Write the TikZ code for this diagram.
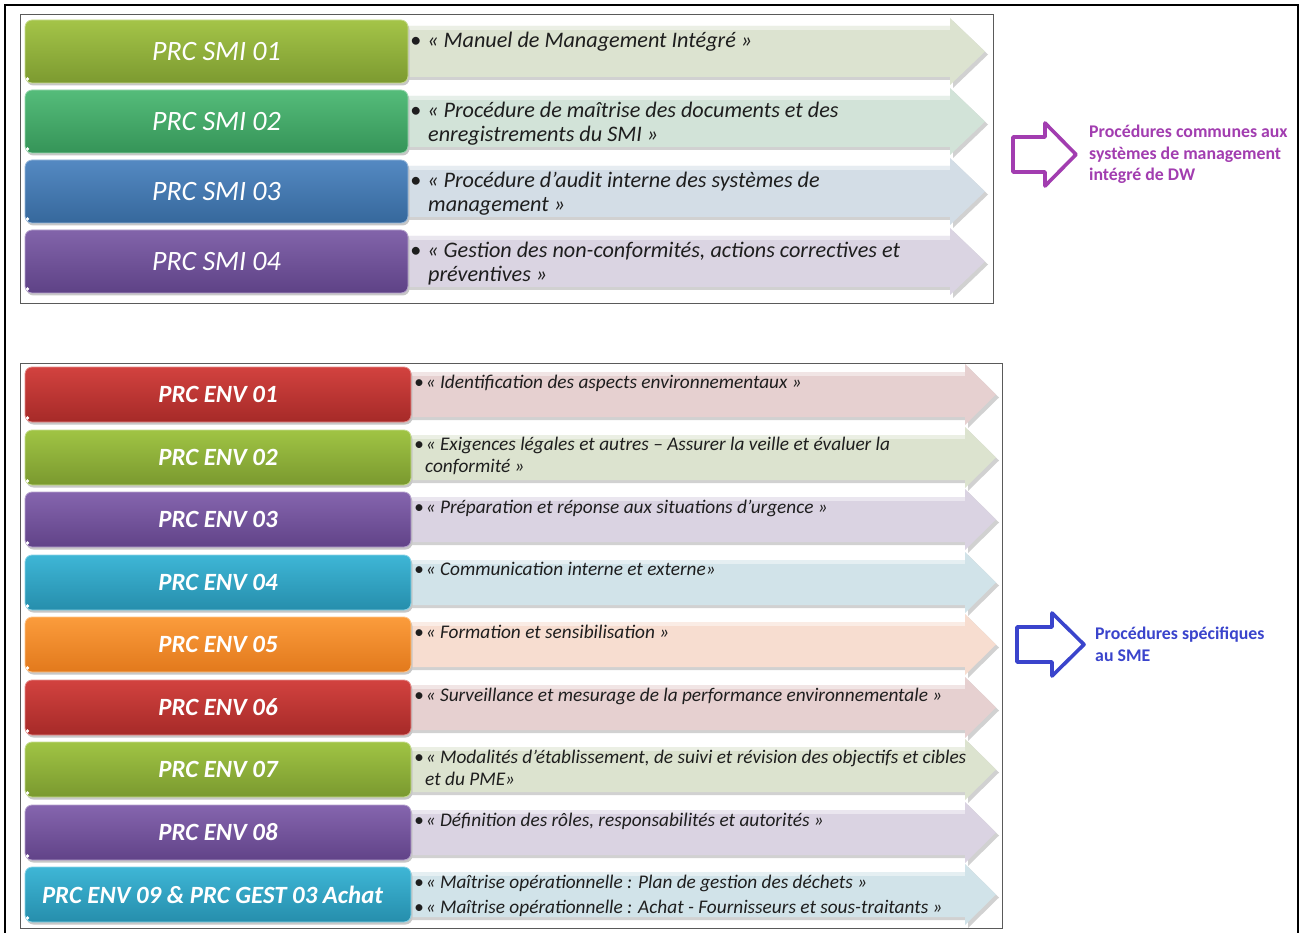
\documentclass[tikz,border=0pt]{standalone}
\usepackage{fontspec}
\setmainfont{Carlito}
\definecolor{txt}{HTML}{1E1E1E}
\definecolor{frame}{HTML}{5A5A5A}
\definecolor{smiApale}{HTML}{DCE3D0}
\definecolor{smiBpale}{HTML}{D2E3D8}
\definecolor{smiCpale}{HTML}{D3DDE6}
\definecolor{smiDpale}{HTML}{DAD4E2}
\definecolor{redpale}{HTML}{E6D0D0}
\definecolor{grnpale}{HTML}{DCE3CF}
\definecolor{purpale}{HTML}{DAD3E2}
\definecolor{aqupale}{HTML}{D1E3E9}
\definecolor{orapale}{HTML}{F7DDD0}
\definecolor{purplemark}{HTML}{A23DB0}
\definecolor{bluemark}{HTML}{3A44CC}
% bar gradients: top / bottom
\definecolor{smiAt}{HTML}{A4C448}\definecolor{smiAb}{HTML}{7C9A30}
\definecolor{smiBt}{HTML}{55BC7A}\definecolor{smiBb}{HTML}{359458}
\definecolor{smiCt}{HTML}{5489C2}\definecolor{smiCb}{HTML}{36689C}
\definecolor{smiDt}{HTML}{8264AA}\definecolor{smiDb}{HTML}{5E4286}
\definecolor{redt}{HTML}{D2423F}\definecolor{redb}{HTML}{A62A28}
\definecolor{grnt}{HTML}{A0C444}\definecolor{grnb}{HTML}{7A992F}
\definecolor{purt}{HTML}{8565AE}\definecolor{purb}{HTML}{614388}
\definecolor{aqut}{HTML}{3EB6D6}\definecolor{aqub}{HTML}{268EAC}
\definecolor{orat}{HTML}{FB9C3C}\definecolor{orab}{HTML}{E2791C}
\tikzset{
  bar/.style args={#1/#2}{rounded corners=7pt, inner sep=0pt, text=white,
    top color=#1, bottom color=#2, draw=#1!60!white, line width=0.8pt,
    preaction={fill=black!22, transform canvas={shift={(1.5pt,-2.5pt)}}}},
  smibar/.style={minimum width=383pt, minimum height=63pt,
    font=\fontsize{28}{32}\selectfont\itshape},
  envbar/.style={minimum width=386pt, minimum height=55pt,
    font=\fontsize{24.8}{28}\selectfont\bfseries\itshape},
  smitext/.style={anchor=base west, inner sep=0pt, text=txt,
    font=\fontsize{22.2}{26}\selectfont\itshape},
  envtext/.style={anchor=base west, inner sep=0pt, text=txt,
    font=\fontsize{19.3}{22}\selectfont\itshape},
  boxframe/.style={draw=frame, line width=1pt},
  bigarrow/.style={draw=#1, line width=3.6pt, line join=round, fill=white},
  sidetext/.style={anchor=base west, inner sep=0pt,
    font=\fontsize{17.8}{21}\selectfont\bfseries}
}
% pale band with a pointed head behind the description of a procedure
\newcommand\smiband[2]{%
  \fill[black!18] (403,#2+9) -- (953,#2+9) -- (953,#2+1) -- (988,#2+34.5)
    -- (953,#2+68) -- (953,#2+60) -- (403,#2+60) -- cycle;
  \fill[#1] (400,#2+6) -- (950,#2+6) -- (950,#2-2) -- (985,#2+31.5)
    -- (950,#2+65) -- (950,#2+57) -- (400,#2+57) -- cycle;
  \fill[white, opacity=0.45] (400,#2+6) rectangle (950,#2+10);}
\newcommand\envband[2]{%
  \fill[black!18] (408,#2+8) -- (968,#2+8) -- (968,#2+0) -- (999,#2+30.5)
    -- (968,#2+61) -- (968,#2+53) -- (408,#2+53) -- cycle;
  \fill[#1] (405,#2+5) -- (965,#2+5) -- (965,#2-3) -- (996,#2+27.5)
    -- (965,#2+58) -- (965,#2+50) -- (405,#2+50) -- cycle;
  \fill[white, opacity=0.45] (405,#2+5) rectangle (965,#2+9);}
% small glossy dot in the lower left corner of a bar
\newcommand\gloss[1]{\fill[white] (27.5,#1) circle (1.8pt);}
\begin{document}
\begin{tikzpicture}[x=1pt, y=-1pt]
  \useasboundingbox (0,0) rectangle (1301,933);
  \clip (0,0) rectangle (1301,933);
  \fill[white] (0,0) rectangle (1301,933);
  % outer frame
  \draw[black, line width=2pt] (5,945) -- (5,5) -- (1298,5) -- (1298,945);

  % ---------- integrated management system procedures ----------
  \draw[boxframe] (20,15) rectangle (993,304);
  \smiband{smiApale}{20}
  \smiband{smiBpale}{90}
  \smiband{smiCpale}{160}
  \smiband{smiDpale}{230}

  \node[bar=smiAt/smiAb, smibar] (smi1) at (216.5,51.5) {PRC SMI 01};
  \node[bar=smiBt/smiBb, smibar] (smi2) at (216.5,121.5) {PRC SMI 02};
  \node[bar=smiCt/smiCb, smibar] (smi3) at (216.5,191.5) {PRC SMI 03};
  \node[bar=smiDt/smiDb, smibar] (smi4) at (216.5,261.5) {PRC SMI 04};
  \gloss{79}\gloss{149}\gloss{219}\gloss{289}

  \node[smitext] (d1) at (410,47.5) {•\hspace{6pt}« Manuel de Management Intégré »};
  \node[smitext] (d2a) at (410,117.5) {•\hspace{6pt}« Procédure de maîtrise des documents et des};
  \node[smitext] (d2b) at (428,141.5) {enregistrements du SMI »};
  \node[smitext] (d3a) at (410,187.5) {•\hspace{6pt}« Procédure d’audit interne des systèmes de};
  \node[smitext] (d3b) at (428,211.5) {management  »};
  \node[smitext] (d4a) at (410,257.5) {•\hspace{6pt}« Gestion des non-conformités, actions correctives et};
  \node[smitext] (d4b) at (428,281.5) {préventives »};

  % side note for the upper group
  \draw[bigarrow=purplemark] (1013,137) -- (1045,137) -- (1045,123) -- (1076,154.5)
    -- (1045,186) -- (1045,172) -- (1013,172) -- cycle;
  \node[sidetext, text=purplemark] (n1a) at (1089,138) {Procédures communes aux};
  \node[sidetext, text=purplemark] (n1b) at (1089,159.5) {systèmes de management};
  \node[sidetext, text=purplemark] (n1c) at (1089,181) {intégré de DW};

  % ---------- environmental management system procedures ----------
  \draw[boxframe] (20,363) rectangle (1002,928);
  \envband{redpale}{367}
  \envband{grnpale}{430}
  \envband{purpale}{492}
  \envband{aqupale}{555}
  \envband{orapale}{617}
  \envband{redpale}{680}
  \envband{grnpale}{742}
  \envband{purpale}{805}
  \envband{aqupale}{867}

  \node[bar=redt/redb, envbar] (e1) at (218,394.5) {PRC ENV 01};
  \node[bar=grnt/grnb, envbar] (e2) at (218,457.5) {PRC ENV 02};
  \node[bar=purt/purb, envbar] (e3) at (218,519.5) {PRC ENV 03};
  \node[bar=aqut/aqub, envbar] (e4) at (218,582.5) {PRC ENV 04};
  \node[bar=orat/orab, envbar] (e5) at (218,644.5) {PRC ENV 05};
  \node[bar=redt/redb, envbar] (e6) at (218,707.5) {PRC ENV 06};
  \node[bar=grnt/grnb, envbar] (e7) at (218,769.5) {PRC ENV 07};
  \node[bar=purt/purb, envbar] (e8) at (218,832.5) {PRC ENV 08};
  \node[bar=aqut/aqub, envbar] (e9) at (218,894.5) {\hspace*{-11pt}PRC ENV 09 \& PRC GEST 03 Achat};
  \gloss{418}\gloss{481}\gloss{543}\gloss{606}\gloss{668}\gloss{731}\gloss{793}\gloss{856}\gloss{918}

  \node[envtext] (t1) at (414,388.5) {•\hspace{2pt}« Identification des aspects environnementaux »};
  \node[envtext] (t2a) at (414,450.5) {•\hspace{2pt}« Exigences légales et autres – Assurer la veille et évaluer la};
  \node[envtext] (t2b) at (425,472.5) {conformité »};
  \node[envtext] (t3) at (414,513.5) {•\hspace{2pt}« Préparation et réponse aux situations d’urgence »};
  \node[envtext] (t4) at (414,575.5) {•\hspace{2pt}« Communication interne et externe»};
  \node[envtext] (t5) at (414,638.5) {•\hspace{2pt}« Formation et sensibilisation »};
  \node[envtext] (t6) at (414,701.5) {•\hspace{2pt}« Surveillance et mesurage de la performance environnementale  »};
  \node[envtext] (t7a) at (414,763.5) {•\hspace{2pt}« Modalités d’établissement, de suivi et révision des objectifs et cibles};
  \node[envtext] (t7b) at (425,785.5) {et du PME»};
  \node[envtext] (t8) at (414,826.5) {•\hspace{2pt}« Définition des rôles, responsabilités et autorités »};
  \node[envtext] (t9a) at (414,888.5) {•\hspace{2pt}« Maîtrise opérationnelle : Plan de gestion des déchets »};
  \node[envtext] (t9b) at (414,913.5) {•\hspace{2pt}« Maîtrise opérationnelle : Achat - Fournisseurs et sous-traitants »};

  % side note for the lower group
  \draw[bigarrow=bluemark] (1017,627) -- (1052,627) -- (1052,613) -- (1084,644.5)
    -- (1052,676) -- (1052,662) -- (1017,662) -- cycle;
  \node[sidetext, text=bluemark] (n2a) at (1095,639) {Procédures spécifiques};
  \node[sidetext, text=bluemark] (n2b) at (1095,661) {au SME};
\end{tikzpicture}
\end{document}
